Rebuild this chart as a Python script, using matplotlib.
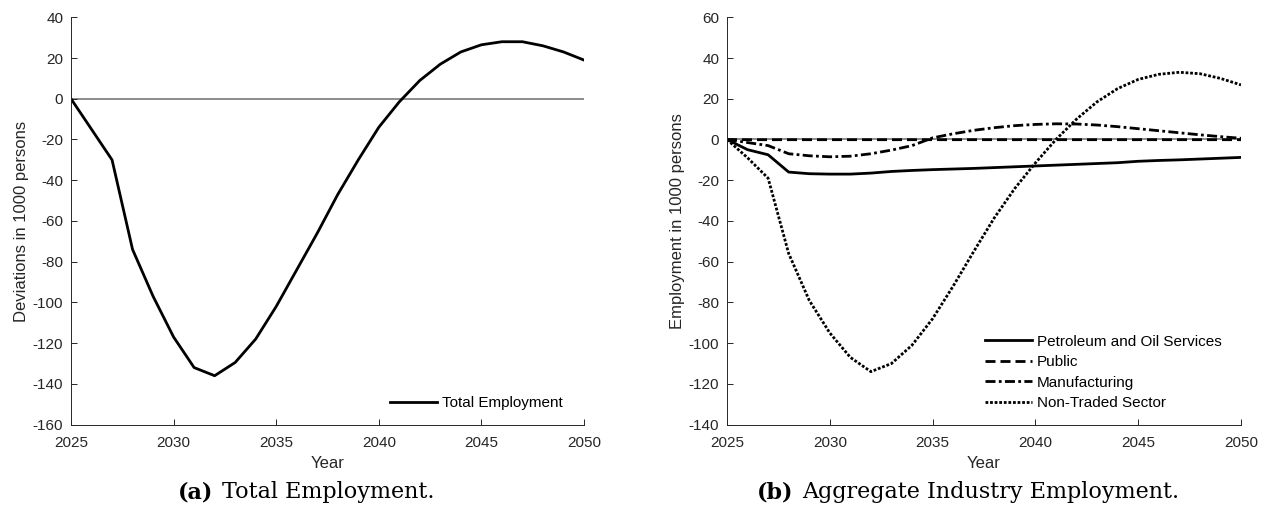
import numpy as np
import matplotlib
matplotlib.use("Agg")
import matplotlib.pyplot as plt
from matplotlib.offsetbox import TextArea, HPacker, AnnotationBbox

years = np.arange(2025, 2051)

total_employment = [0, -15, -30, -74, -97, -117, -132, -136, -129.5, -118,
                    -102, -84, -66, -47, -30, -14, -1.5, 9, 17, 23,
                    26.5, 28, 28, 26, 23, 19]

petroleum = [0, -5, -7.5, -16, -16.8, -17, -17, -16.5, -15.7, -15.2,
             -14.8, -14.5, -14.2, -13.8, -13.4, -13, -12.6, -12.2, -11.8, -11.4,
             -10.7, -10.3, -10.0, -9.6, -9.2, -8.8]
public = [0, -0.1, -0.1, -0.1, -0.1, -0.1, -0.1, -0.1, -0.1, -0.1,
          -0.1, -0.1, -0.1, -0.1, -0.1, -0.1, -0.1, -0.1, -0.1, -0.1,
          -0.1, -0.1, -0.1, -0.1, -0.1, -0.1]
manufacturing = [0, -1.5, -3, -7, -8, -8.5, -8.2, -7, -5.2, -3,
                 0.8, 2.8, 4.5, 5.8, 6.8, 7.4, 7.7, 7.6, 7.1, 6.3,
                 5.3, 4.3, 3.3, 2.3, 1.4, 0.6]
non_traded = [0, -9, -19, -56, -79, -95, -107, -114, -110, -101,
              -88, -72, -55, -38.5, -24, -11.5, 0, 10, 18.5, 25,
              29.5, 32, 33, 32.3, 30, 26.8]

sector_names = ["Petroleum and Oil Services", "Public", "Manufacturing", "Non-Traded Sector"]

plt.rcParams["font.family"] = ["Liberation Sans", "DejaVu Sans"]
plt.rcParams["axes.unicode_minus"] = False
txt = "#262626"

W, H = 1273, 514
fig = plt.figure(figsize=(W / 100, H / 100), dpi=100)


def px_rect(x0, x1, y0, y1):
    return [x0 / W, 1 - y1 / H, (x1 - x0) / W, (y1 - y0) / H]


def style_axes(ax, ylim, ylabel):
    ax.set_xlim(2025, 2050)
    ax.set_ylim(*ylim)
    ax.set_xticks(range(2025, 2051, 5))
    ax.set_yticks(range(ylim[0], ylim[1] + 1, 20))
    for s in ["top", "right"]:
        ax.spines[s].set_visible(False)
    for s in ["left", "bottom"]:
        ax.spines[s].set_color(txt)
        ax.spines[s].set_linewidth(0.7)
    ax.tick_params(direction="in", length=4, width=0.7, colors=txt, labelsize=11)
    ax.tick_params(axis="x", pad=8.5)
    ax.tick_params(axis="y", pad=5.5)
    ax.set_xlabel("Year", fontsize=12, color=txt, labelpad=4)
    ax.set_ylabel(ylabel, fontsize=12, color=txt, labelpad=3)
    ax.axhline(0, color="#6e6e6e", lw=1.1, zorder=1)


# (a) total employment
ax1 = fig.add_axes(px_rect(71, 584, 17.3, 424.6))
style_axes(ax1, (-160, 40), "Deviations in 1000 persons")
ax1.plot(years, total_employment, color="black", lw=2, label="Total Employment")
ax1.legend(loc="lower left", bbox_to_anchor=(390 / W, 1 - 410 / H),
           bbox_transform=fig.transFigure, frameon=False, fontsize=11,
           handlelength=3.1, handletextpad=0.3, borderpad=0, borderaxespad=0)

# (b) sectors
ax2 = fig.add_axes(px_rect(727, 1241, 17.3, 424.6))
style_axes(ax2, (-140, 60), "Employment in 1000 persons")
ax2.plot(years, petroleum, color="black", lw=2, ls="-", label=sector_names[0])
ax2.plot(years, public, color="black", lw=2, ls=(0, (3.6, 1.8)), label=sector_names[1])
ax2.plot(years, manufacturing, color="black", lw=2, ls=(0, (3.6, 1.2, 1.0, 1.2)),
         label=sector_names[2])
ax2.plot(years, non_traded, color="black", lw=2, ls=(0, (1, 0.65)), label=sector_names[3])
ax2.legend(loc="lower left", bbox_to_anchor=(985 / W, 1 - 410 / H),
           bbox_transform=fig.transFigure, frameon=False, fontsize=11,
           handlelength=3.1, handletextpad=0.3, borderpad=0, borderaxespad=0,
           labelspacing=0.42)


def caption(xc, tag, text):
    serif = ["DejaVu Serif"]
    a = TextArea(tag, textprops=dict(fontsize=16, fontweight="bold", family=serif, color="black"))
    b = TextArea(text, textprops=dict(fontsize=16, family=serif, color="black"))
    box = HPacker(children=[a, b], pad=0, sep=6, align="baseline")
    ab = AnnotationBbox(box, (xc / W, 1 - 492 / H), xycoords="figure fraction",
                        frameon=False, box_alignment=(0.5, 0.5), pad=0)
    fig.add_artist(ab)


caption(306, "(a)", "Total Employment.")
caption(968, "(b)", "Aggregate Industry Employment.")

fig.savefig("out.png", dpi=100)
